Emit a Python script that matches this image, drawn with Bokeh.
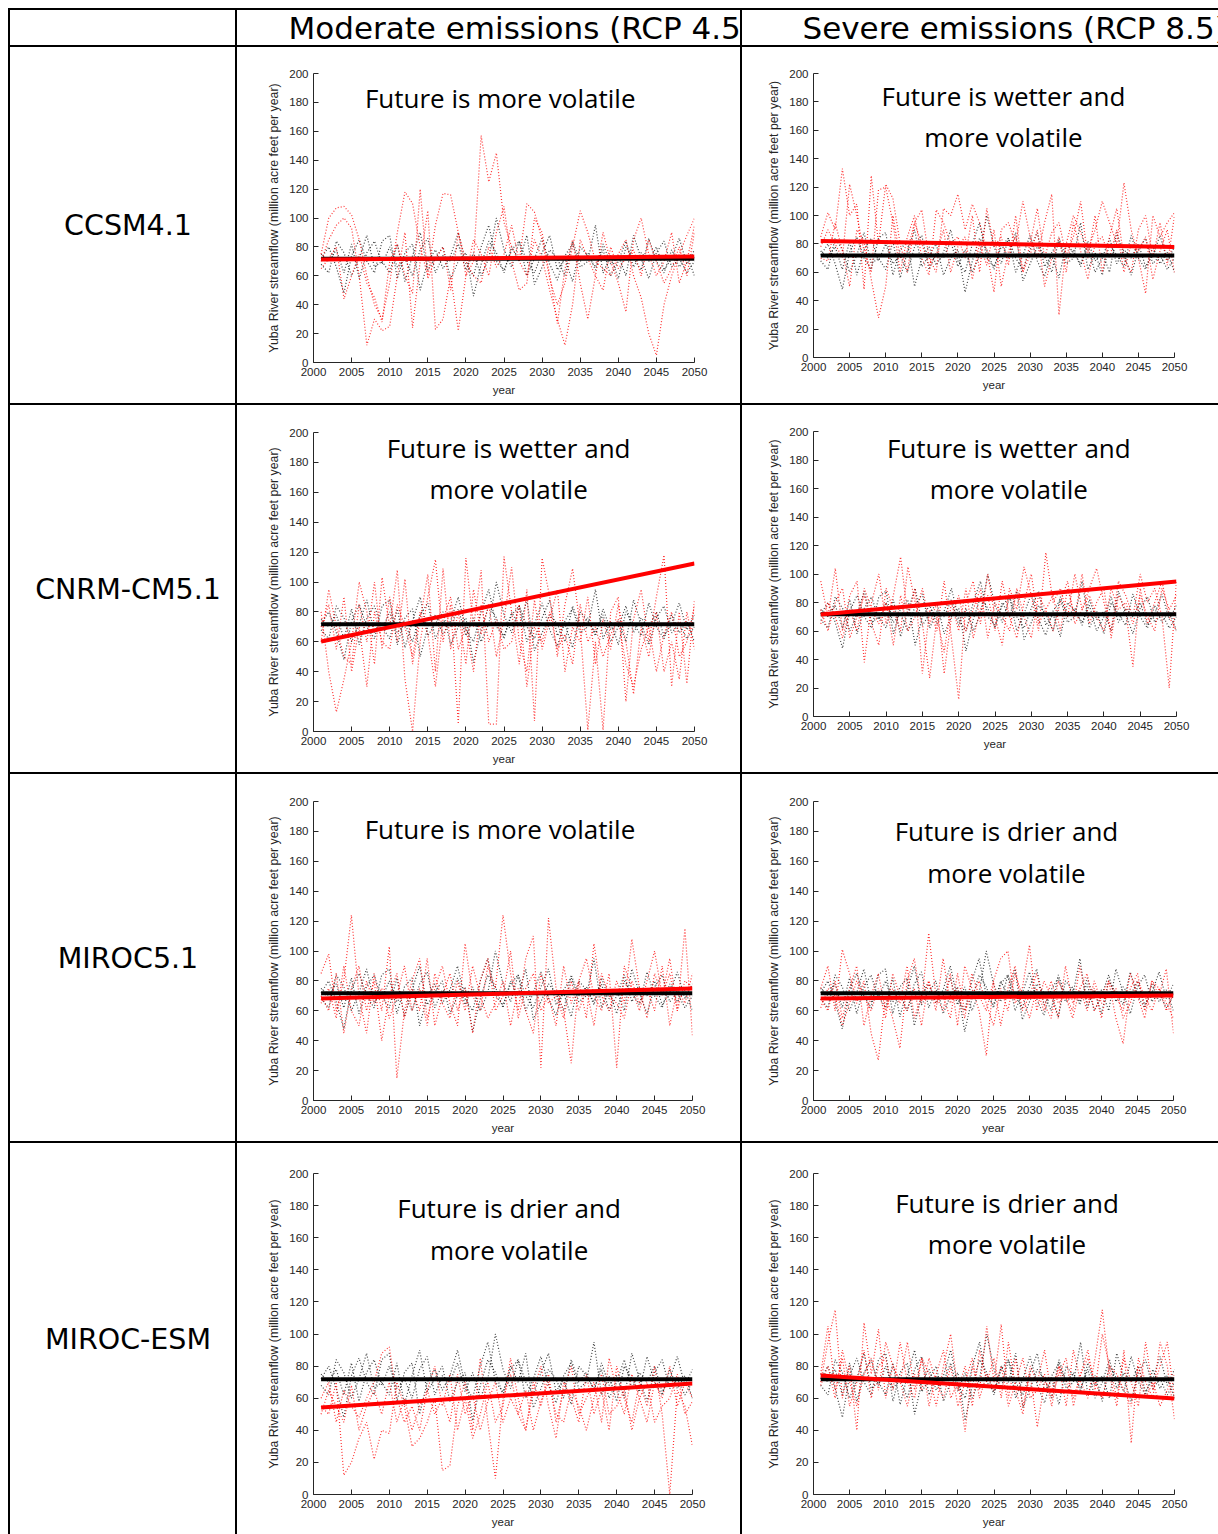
from bokeh.plotting import figure
from bokeh.models import Label, Range1d, Spacer, Column, Row, FixedTicker
from bokeh.embed import file_html
from bokeh.resources import INLINE

# ---------------- data ----------------
YEARS = list(range(2001, 2051))
X_TICKS = list(range(2000, 2051, 5))
Y_TICKS = list(range(0, 201, 20))
MODELS = ["CCSM4.1", "CNRM-CM5.1", "MIROC5.1", "MIROC-ESM"]
SCENARIOS = ["Moderate emissions (RCP 4.5)", "Severe emissions (RCP 8.5)"]
Y_LABEL = "Yuba River streamflow (million acre feet per year)"
X_LABEL = "year"

# historical streamflow traces (black dotted)
HIST_1 = [72, 80, 66, 48, 74, 85, 70, 62, 84, 88,
          58, 76, 82, 50, 70, 78, 65, 74, 90, 68,
          60, 80, 95, 70, 64, 78, 84, 60, 72, 86,
          68, 57, 74, 82, 66, 70, 95, 62, 74, 58,
          80, 72, 64, 86, 70, 62, 78, 66, 74, 60]
HIST_2 = [68, 62, 84, 76, 60, 72, 88, 66, 70, 62,
          82, 56, 74, 90, 64, 72, 80, 58, 70, 76,
          46, 68, 84, 76, 62, 80, 70, 88, 54, 66,
          78, 72, 60, 84, 70, 76, 64, 82, 68, 74,
          60, 88, 72, 58, 76, 84, 66, 72, 62, 70]
HIST_3 = [75, 70, 78, 62, 82, 58, 76, 84, 68, 80,
          66, 72, 60, 78, 86, 62, 74, 70, 82, 64,
          76, 60, 72, 100, 78, 66, 84, 70, 62, 76,
          88, 64, 72, 56, 80, 74, 66, 78, 60, 70,
          84, 66, 76, 70, 80, 64, 72, 86, 68, 78]
HIST_MEAN = 71.8

# future projections (red dotted)
CCSM4_45_A = [75, 100, 107, 108, 102, 85, 60, 40, 30, 55,
              90, 118, 110, 80, 60, 95, 117, 116, 90, 60,
              70, 157, 125, 145, 97, 80, 70, 110, 104, 85,
              58, 40, 55, 80, 105, 90, 70, 65, 60, 75,
              85, 60, 45, 20, 5, 40, 60, 75, 88, 100]
CCSM4_45_B = [70, 85, 95, 100, 93, 60, 12, 30, 22, 25,
              60, 90, 24, 70, 105, 23, 30, 60, 22, 60,
              85, 75, 60, 90, 108, 70, 50, 55, 100, 90,
              60, 27, 65, 85, 55, 30, 60, 90, 70, 55,
              35, 85, 100, 75, 60, 70, 90, 55, 70, 95]
CCSM4_45_C = [65, 72, 80, 44, 60, 75, 55, 45, 28, 70,
              82, 60, 48, 120, 58, 72, 80, 50, 90, 70,
              60, 55, 80, 66, 75, 95, 70, 60, 85, 72,
              50, 30, 12, 40, 85, 72, 60, 50, 80, 65,
              72, 78, 60, 85, 70, 55, 65, 80, 60, 90]
CCSM4_85_A = [85, 102, 90, 133, 100, 108, 48, 128, 80, 122,
              112, 80, 60, 95, 104, 70, 60, 105, 100, 115,
              90, 108, 95, 75, 46, 90, 95, 80, 110, 85,
              70, 95, 115, 30, 80, 100, 88, 75, 90, 110,
              95, 80, 123, 90, 70, 45, 100, 85, 95, 102]
CCSM4_85_B = [78, 90, 80, 70, 122, 100, 75, 60, 118, 120,
              95, 60, 85, 100, 70, 58, 104, 95, 80, 85,
              70, 100, 60, 105, 78, 85, 65, 100, 60, 80,
              105, 70, 88, 95, 72, 85, 110, 70, 100, 60,
              85, 105, 70, 60, 90, 100, 70, 95, 65, 100]
CCSM4_85_C = [70, 68, 95, 75, 50, 90, 82, 55, 28, 50,
              100, 70, 75, 95, 80, 65, 72, 90, 60, 78,
              85, 55, 80, 65, 90, 50, 75, 85, 60, 72,
              90, 50, 70, 85, 60, 95, 75, 55, 80, 85,
              70, 90, 60, 80, 75, 85, 55, 75, 90, 60]
CNRM_45_A = [80, 40, 13, 35, 60, 100, 80, 45, 103, 70,
             108, 35, 0, 60, 90, 115, 60, 85, 5, 116,
             70, 108, 5, 5, 117, 80, 45, 95, 7, 116,
             90, 50, 85, 109, 70, 1, 60, 1, 80, 90,
             20, 75, 95, 60, 90, 118, 30, 80, 32, 88]
CNRM_45_B = [60, 95, 70, 50, 45, 85, 60, 100, 55, 90,
             60, 102, 45, 75, 105, 40, 109, 55, 80, 45,
             95, 65, 85, 50, 75, 110, 60, 40, 88, 55,
             75, 95, 40, 70, 60, 90, 45, 75, 55, 85,
             60, 25, 70, 50, 80, 40, 60, 35, 80, 55]
CNRM_45_C = [70, 85, 55, 90, 40, 70, 30, 80, 60, 55,
             85, 70, 50, 80, 65, 30, 75, 90, 55, 70,
             40, 85, 60, 75, 55, 60, 85, 30, 70, 60,
             80, 55, 65, 45, 85, 60, 70, 50, 65, 75,
             45, 30, 55, 70, 40, 65, 80, 50, 60, 84]
CNRM_85_A = [95, 70, 104, 60, 85, 95, 38, 80, 100, 65,
             85, 112, 70, 90, 30, 75, 60, 95, 55, 12,
             80, 95, 65, 100, 70, 50, 90, 75, 105, 85,
             60, 115, 80, 90, 70, 100, 75, 90, 104, 80,
             60, 95, 85, 70, 100, 80, 90, 70, 20, 95]
CNRM_85_B = [75, 60, 80, 90, 55, 70, 85, 65, 50, 90,
             75, 60, 105, 80, 65, 27, 70, 45, 80, 60,
             90, 55, 75, 85, 60, 95, 70, 55, 80, 100,
             65, 75, 85, 60, 90, 70, 100, 65, 80, 90,
             55, 85, 75, 35, 90, 65, 80, 95, 70, 60]
CNRM_85_C = [65, 80, 70, 55, 75, 60, 90, 75, 65, 80,
             50, 85, 60, 70, 90, 65, 80, 30, 70, 85,
             60, 75, 90, 55, 80, 70, 60, 90, 70, 55,
             85, 75, 60, 80, 95, 65, 75, 85, 70, 60,
             90, 75, 80, 65, 85, 70, 60, 90, 75, 85]
MIROC5_45_A = [85, 98, 60, 80, 124, 70, 45, 85, 60, 103,
               15, 60, 80, 95, 55, 75, 90, 65, 50, 105,
               70, 60, 90, 75, 124, 85, 60, 95, 110, 22,
               122, 75, 60, 25, 80, 95, 70, 60, 85, 22,
               90, 75, 60, 80, 100, 70, 85, 60, 115, 43]
MIROC5_45_B = [70, 60, 85, 45, 75, 90, 60, 80, 40, 70,
               85, 55, 75, 60, 95, 50, 70, 85, 60, 75,
               45, 80, 95, 60, 70, 100, 55, 75, 85, 60,
               70, 50, 90, 65, 80, 55, 105, 70, 60, 80,
               65, 108, 75, 55, 85, 70, 95, 60, 80, 75]
MIROC5_45_C = [65, 75, 55, 90, 60, 50, 80, 65, 75, 55,
               70, 90, 60, 75, 50, 85, 65, 55, 80, 60,
               90, 70, 55, 65, 80, 50, 75, 60, 45, 85,
               65, 70, 55, 80, 60, 75, 50, 85, 70, 65,
               55, 80, 65, 75, 60, 90, 50, 75, 65, 85]
MIROC5_85_A = [75, 90, 60, 101, 85, 65, 80, 45, 27, 70,
               55, 35, 80, 95, 65, 112, 70, 60, 85, 50,
               90, 75, 60, 30, 80, 95, 100, 65, 75, 104,
               60, 80, 70, 55, 90, 65, 75, 85, 60, 70,
               80, 55, 38, 75, 85, 60, 80, 70, 88, 45]
MIROC5_85_B = [68, 60, 80, 55, 75, 90, 50, 70, 85, 60,
               75, 65, 90, 55, 70, 80, 60, 95, 65, 75,
               55, 85, 70, 60, 80, 50, 75, 90, 60, 70,
               85, 65, 55, 80, 70, 60, 90, 65, 75, 55,
               80, 70, 60, 85, 70, 55, 80, 75, 60, 72]
MIROC5_85_C = [62, 75, 70, 50, 65, 80, 70, 60, 75, 55,
               85, 70, 60, 75, 50, 80, 65, 70, 55, 85,
               60, 70, 80, 65, 50, 75, 60, 85, 70, 55,
               75, 60, 80, 65, 70, 55, 75, 60, 80, 65,
               70, 75, 55, 65, 80, 70, 60, 75, 65, 55]
MIROCESM_45_A = [55, 50, 70, 12, 20, 35, 45, 22, 40, 38,
                 70, 55, 30, 35, 45, 60, 15, 18, 55, 70,
                 40, 85, 45, 10, 60, 75, 50, 40, 65, 80,
                 55, 35, 70, 60, 45, 75, 50, 65, 40, 80,
                 60, 45, 70, 55, 80, 50, 0, 65, 55, 30]
MIROCESM_45_B = [60, 70, 45, 65, 55, 48, 60, 70, 88, 92,
                 60, 45, 55, 40, 65, 80, 55, 75, 40, 60,
                 35, 50, 70, 45, 55, 85, 60, 40, 70, 55,
                 75, 45, 65, 80, 50, 60, 70, 45, 85, 65,
                 50, 75, 60, 45, 70, 60, 80, 55, 70, 60]
MIROCESM_45_C = [50, 65, 55, 45, 68, 40, 55, 65, 50, 70,
                 45, 60, 40, 55, 65, 50, 60, 45, 75, 50,
                 62, 40, 58, 70, 45, 60, 50, 65, 40, 58,
                 70, 50, 45, 65, 55, 40, 60, 75, 50, 55,
                 65, 40, 60, 70, 45, 55, 60, 75, 50, 58]
MIROCESM_85_A = [70, 95, 115, 60, 80, 40, 107, 75, 103, 60,
                 80, 70, 95, 65, 85, 55, 75, 90, 60, 70,
                 39, 80, 65, 105, 70, 106, 60, 85, 55, 75,
                 42, 70, 65, 80, 55, 90, 70, 60, 85, 115,
                 75, 55, 90, 32, 85, 70, 60, 95, 80, 47]
MIROCESM_85_B = [75, 105, 65, 85, 55, 70, 90, 60, 80, 85,
                 65, 95, 70, 60, 85, 75, 55, 80, 100, 65,
                 80, 55, 90, 70, 85, 60, 95, 65, 50, 80,
                 70, 90, 60, 75, 85, 55, 75, 90, 65, 100,
                 80, 60, 85, 70, 55, 95, 65, 80, 95, 60]
MIROCESM_85_C = [68, 80, 60, 90, 70, 55, 75, 85, 65, 95,
                 80, 70, 55, 75, 65, 85, 70, 60, 80, 55,
                 70, 85, 60, 75, 65, 80, 55, 70, 85, 60,
                 65, 75, 55, 80, 70, 60, 75, 85, 70, 60,
                 80, 75, 65, 55, 80, 60, 70, 55, 65, 75]

# linear trend of the projections: value at first and last year
TREND_CCSM4_45 = [71.3, 73.4]
TREND_CCSM4_85 = [82.1, 77.9]
TREND_CNRM_45 = [60.2, 112.4]
TREND_CNRM_85 = [71.6, 94.7]
TREND_MIROC5_45 = [68.2, 74.9]
TREND_MIROC5_85 = [68.2, 70.2]
TREND_MIROCESM_45 = [54.2, 69.2]
TREND_MIROCESM_85 = [74.1, 59.8]

TITLE_CCSM4_45 = ["Future is more volatile"]
TITLE_CCSM4_85 = ["Future is wetter and", "more volatile"]
TITLE_CNRM_45 = ["Future is wetter and", "more volatile"]
TITLE_CNRM_85 = ["Future is wetter and", "more volatile"]
TITLE_MIROC5_45 = ["Future is more volatile"]
TITLE_MIROC5_85 = ["Future is drier and", "more volatile"]
TITLE_MIROCESM_45 = ["Future is drier and", "more volatile"]
TITLE_MIROCESM_85 = ["Future is drier and", "more volatile"]

PANEL_DATA = [
    [([CCSM4_45_A, CCSM4_45_B, CCSM4_45_C], TREND_CCSM4_45, TITLE_CCSM4_45),
     ([CCSM4_85_A, CCSM4_85_B, CCSM4_85_C], TREND_CCSM4_85, TITLE_CCSM4_85)],
    [([CNRM_45_A, CNRM_45_B, CNRM_45_C], TREND_CNRM_45, TITLE_CNRM_45),
     ([CNRM_85_A, CNRM_85_B, CNRM_85_C], TREND_CNRM_85, TITLE_CNRM_85)],
    [([MIROC5_45_A, MIROC5_45_B, MIROC5_45_C], TREND_MIROC5_45, TITLE_MIROC5_45),
     ([MIROC5_85_A, MIROC5_85_B, MIROC5_85_C], TREND_MIROC5_85, TITLE_MIROC5_85)],
    [([MIROCESM_45_A, MIROCESM_45_B, MIROCESM_45_C], TREND_MIROCESM_45, TITLE_MIROCESM_45),
     ([MIROCESM_85_A, MIROCESM_85_B, MIROCESM_85_C], TREND_MIROCESM_85, TITLE_MIROCESM_85)],
]

# ---------------- layout / style ----------------
OFFSET = 8
GAP = 2
COL_W = [225, 503, 476]
HEADER_H = 35
ROW_H = [356, 367, 367, 391]
# (left, right, top, bottom) borders around the plot frame per panel
BORDERS = [
    [(76, 46, 26, 41), (71, 44, 26, 46)],
    [(76, 46, 27, 41), (71, 42, 26, 56)],
    [(76, 48, 27, 41), (71, 45, 27, 41)],
    [(76, 48, 30, 40), (71, 44, 30, 40)],
]
# title placement (x in years, y in data units for each line)
TITLE_POS = [
    [(2024.5, [182.7]), (2026.3, [183.9, 155.1])],
    [(2025.6, [189.3, 161.9]), (2026.9, [188.1, 159.3])],
    [(2024.6, [181.3]), (2026.8, [180.0, 152.5])],
    [(2025.8, [178.2, 152.6]), (2026.8, [181.9, 155.8])],
]
AX_COLOR = "#262626"
WHITE = {"background-color": "white"}


def blank(w, h):
    p = figure(width=w, height=h, x_range=Range1d(0, w), y_range=Range1d(0, h),
               output_backend="svg", toolbar_location=None,
               x_axis_location=None, y_axis_location=None,
               min_border=0, outline_line_color=None, frame_align=False,
               background_fill_color=None, border_fill_color=None, styles=WHITE)
    p.grid.visible = False
    return p


def header_cell(w, h, text, x0):
    p = blank(w, h)
    p.add_layout(Label(x=x0, y=h / 2 + 0.5, text=text, text_align="left",
                       text_baseline="middle", text_font="DejaVu Sans",
                       text_font_size="31px", text_color="black"))
    return p


def model_cell(w, h, text):
    p = blank(w, h)
    p.add_layout(Label(x=w / 2 + 5, y=h / 2, text=text, text_align="center",
                       text_baseline="middle", text_font="DejaVu Sans",
                       text_font_size="28.5px", text_color="black"))
    return p


def panel(w, h, border, series, trend, title, tpos):
    left, right, top, bottom = border
    p = figure(width=w, height=h, x_range=Range1d(2000, 2050), y_range=Range1d(0, 200),
               output_backend="svg", toolbar_location=None,
               min_border_left=left, min_border_right=right,
               min_border_top=top, min_border_bottom=bottom,
               outline_line_color=None, frame_align=False,
               background_fill_color=None, border_fill_color=None, styles=WHITE)
    p.grid.visible = False
    p.xaxis.ticker = FixedTicker(ticks=X_TICKS, minor_ticks=[])
    p.yaxis.ticker = FixedTicker(ticks=Y_TICKS, minor_ticks=[])
    p.xaxis.axis_label = X_LABEL
    p.yaxis.axis_label = Y_LABEL
    for ax in (p.xaxis[0], p.yaxis[0]):
        ax.axis_line_color = AX_COLOR
        ax.major_tick_line_color = AX_COLOR
        ax.major_tick_in = 5
        ax.major_tick_out = 0
        ax.minor_tick_in = 0
        ax.minor_tick_out = 0
        ax.major_label_text_font = "Liberation Sans"
        ax.major_label_text_font_size = "11.5px"
        ax.major_label_text_color = AX_COLOR
        ax.major_label_standoff = 5
        ax.axis_label_text_font = "Liberation Sans"
        ax.axis_label_text_font_style = "normal"
        ax.axis_label_text_color = AX_COLOR
        ax.axis_label_standoff = 5
    p.xaxis.axis_label_text_font_size = "11.5px"
    p.yaxis.axis_label_text_font_size = "12.3px"

    for s in (HIST_1, HIST_2, HIST_3):
        p.line(YEARS, s, line_color="black", line_width=1.2, line_dash="1 2", line_alpha=0.75)
    for s in series:
        p.line(YEARS, s, line_color="#ff0000", line_width=1.2, line_dash="1 2", line_alpha=0.8)
    p.line([YEARS[0], YEARS[-1]], [HIST_MEAN, HIST_MEAN], line_color="black", line_width=4)
    p.line([YEARS[0], YEARS[-1]], trend, line_color="#ff0000", line_width=4)

    tx, tys = tpos
    for line_text, ty in zip(title, tys):
        p.add_layout(Label(x=tx, y=ty, text=line_text, text_align="center",
                           text_baseline="middle", text_font="Open Sans",
                           text_font_size="26px", text_color="black"))
    return p


rows = []
table_w = sum(COL_W) + 3 * GAP
rows.append(Spacer(width=table_w, height=0))
rows.append(Row(children=[Spacer(width=0, height=HEADER_H),
                          blank(COL_W[0], HEADER_H),
                          header_cell(COL_W[1], HEADER_H, SCENARIOS[0], 51),
                          header_cell(COL_W[2], HEADER_H, SCENARIOS[1], 60)],
                spacing=GAP))
for i, model in enumerate(MODELS):
    h = ROW_H[i]
    cells = [Spacer(width=0, height=h), model_cell(COL_W[0], h, model)]
    for j in range(2):
        series, trend, title = PANEL_DATA[i][j]
        cells.append(panel(COL_W[j + 1], h, BORDERS[i][j], series, trend, title, TITLE_POS[i][j]))
    rows.append(Row(children=cells, spacing=GAP))

table = Column(children=rows, spacing=GAP, styles={"background-color": "black"})
page = Column(children=[Spacer(width=10, height=OFFSET),
                        Row(children=[Spacer(width=OFFSET, height=10), table])])

open("out.html", "w").write(file_html(page, INLINE, title="Yuba River streamflow projections"))
